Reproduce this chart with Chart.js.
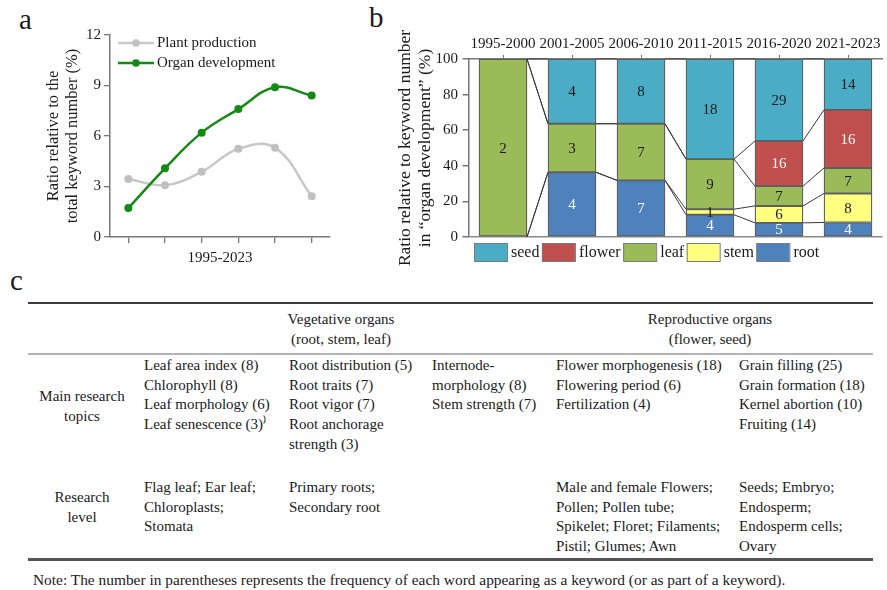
<!DOCTYPE html>
<html>
<head>
<meta charset="utf-8">
<script src="https://cdn.jsdelivr.net/npm/chart.js@4.4.1/dist/chart.umd.min.js"></script>
<style>
  body { margin: 0; background: #fff; }
  #wrap { position: relative; width: 887px; height: 590px; overflow: hidden;
          font-family: 'Liberation Serif', serif; color: #1a1a1a; }
  #wrap canvas { position: absolute; }
  .t { position: absolute; white-space: nowrap; font-size: 15px; line-height: 19.6px; }
  .c { text-align: center; }
  .letter { position: absolute; font-size: 29px; line-height: 30px; }
  .rule { position: absolute; left: 28px; width: 845px; }
</style>
</head>
<body>
<div id="wrap">
  <div class="letter" style="left:19px;top:4px">a</div>
  <div class="letter" style="left:369px;top:2px">b</div>
  <div class="letter" style="left:10px;top:265px">c</div>
  <div id="boxA" style="position:absolute;left:0;top:0;width:345px;height:280px"><canvas id="chartA"></canvas></div>
  <div id="boxB" style="position:absolute;left:360px;top:0;width:527px;height:280px"><canvas id="chartB"></canvas></div>
  <div class="rule" style="top:302px;height:2px;background:#3c3c3c"></div>
  <div class="rule" style="top:353px;height:1.5px;background:#b4b4b4"></div>
  <div class="rule" style="top:558px;height:2.5px;background:#555"></div>
  <div id="table"></div>
</div>
<script>
// panel a
const periods = ['1995-2000', '2001-2005', '2006-2010', '2011-2015', '2016-2020', '2021-2023'];
const plantProduction = [3.45, 3.08, 3.87, 5.24, 5.3, 2.42];
const organDevelopment = [1.72, 4.08, 6.2, 7.6, 8.9, 8.4];
const ratioTicks = [0, 3, 6, 9, 12];

// panel b (keyword counts per period, stacked bottom -> top)
const organs = ['root', 'stem', 'leaf', 'flower', 'seed'];
const rootCounts = [0, 4, 7, 4, 5, 4];
const stemCounts = [0, 0, 0, 1, 6, 8];
const leafCounts = [2, 3, 7, 9, 7, 7];
const flowerCounts = [0, 0, 0, 0, 16, 16];
const seedCounts = [0, 4, 8, 18, 29, 14];
const shareTicks = [0, 20, 40, 60, 80, 100];
const legendOrder = ['seed', 'flower', 'leaf', 'stem', 'root'];

const organColors = { root: '#4f81bd', stem: '#ffff80', leaf: '#9bbb59', flower: '#c0504d', seed: '#4bacc6' };
const whiteText = ['root', 'flower'];

Chart.defaults.font.family = "'Liberation Serif', serif";
Chart.defaults.color = '#1a1a1a';
Chart.defaults.animation = false;

const legendA = {
  id: 'legendA',
  afterDraw(chart) {
    const ctx = chart.ctx;
    [1, 0].forEach((i, row) => {
      const ds = chart.data.datasets[i];
      const y = 43 + row * 20;
      ctx.save();
      ctx.strokeStyle = ds.borderColor;
      ctx.lineWidth = ds.borderWidth;
      ctx.beginPath(); ctx.moveTo(118, y); ctx.lineTo(154, y); ctx.stroke();
      ctx.fillStyle = ds.pointBackgroundColor;
      ctx.beginPath(); ctx.arc(136, y, 3.8, 0, Math.PI * 2); ctx.fill();
      ctx.fillStyle = '#1a1a1a';
      ctx.font = "15px 'Liberation Serif'";
      ctx.textBaseline = 'middle';
      ctx.fillText(ds.label, 157, y);
      ctx.restore();
    });
  }
};

new Chart(document.getElementById('chartA'), {
  type: 'line',
  data: {
    labels: periods,
    datasets: [{
      label: 'Organ development',
      data: organDevelopment,
      borderColor: '#138a13', backgroundColor: '#138a13', pointBackgroundColor: '#138a13',
      borderWidth: 2.5, pointRadius: 4, pointBorderWidth: 0, tension: 0.4, order: 1
    }, {
      label: 'Plant production',
      data: plantProduction,
      borderColor: '#c8c8c8', backgroundColor: '#c0c0c0', pointBackgroundColor: '#c0c0c0',
      borderWidth: 2.5, pointRadius: 4, pointBorderWidth: 0, tension: 0.4, order: 2
    }]
  },
  options: {
    responsive: true, maintainAspectRatio: false,
    layout: { padding: { top: 35, right: 15, bottom: 0, left: 0 } },
    plugins: { legend: { display: false }, tooltip: { enabled: false } },
    scales: {
      x: {
        offset: true,
        grid: { drawOnChartArea: false, tickLength: 6, color: '#777', lineWidth: 1.3 },
        border: { color: '#777', width: 1.5 },
        ticks: { callback: () => '', padding: 0 },
        title: { display: true, text: '1995-2023', font: { size: 15 }, padding: { top: 0, bottom: 13 } },
        afterFit(s) { s.height = 43; }
      },
      y: {
        min: 0, max: 12,
        afterBuildTicks(s) { s.ticks = ratioTicks.map(v => ({ value: v })); },
        ticks: { padding: 3, font: { size: 15 } },
        grid: { drawOnChartArea: false, tickLength: 6, color: '#777', lineWidth: 1.3 },
        border: { color: '#777', width: 1.5 },
        title: { display: true, text: ['Ratio relative to the', 'total keyword number (%)'],
                 font: { size: 16.5, lineHeight: 1.15 }, padding: { top: 44.5, bottom: 0 } },
        afterFit(s) { s.width = 110; }
      }
    }
  },
  plugins: [legendA]
});

const countsByOrgan = { root: rootCounts, stem: stemCounts, leaf: leafCounts, flower: flowerCounts, seed: seedCounts };
const totals = periods.map((p, j) => organs.reduce((s, o) => s + countsByOrgan[o][j], 0));

const linksB = {
  id: 'linksB',
  afterDatasetsDraw(chart) {
    const ctx = chart.ctx;
    ctx.save();
    ctx.strokeStyle = '#3a3a3a';
    ctx.lineWidth = 1;
    chart.data.datasets.forEach((ds, k) => {
      const bars = chart.getDatasetMeta(k).data;
      for (let j = 0; j < bars.length - 1; j++) {
        const a = bars[j], b = bars[j + 1];
        ctx.beginPath();
        ctx.moveTo(a.x + a.width / 2, a.y);
        ctx.lineTo(b.x - b.width / 2, b.y);
        ctx.stroke();
      }
    });
    // value labels
    ctx.font = "15px 'Liberation Serif'";
    ctx.textAlign = 'center';
    ctx.textBaseline = 'middle';
    chart.data.datasets.forEach((ds, k) => {
      const counts = countsByOrgan[organs[k]];
      chart.getDatasetMeta(k).data.forEach((bar, j) => {
        if (!counts[j]) return;
        ctx.fillStyle = whiteText.includes(organs[k]) ? '#ffffff' : '#1a1a1a';
        ctx.fillText(String(counts[j]), bar.x, (bar.y + bar.base) / 2 + 1);
      });
    });
    ctx.restore();
  },
  afterDraw(chart) {
    const ctx = chart.ctx;
    ctx.save();
    ctx.font = "16px 'Liberation Serif'";
    ctx.textBaseline = 'middle';
    let x = 114;
    const y = 243;
    legendOrder.forEach(name => {
      ctx.fillStyle = organColors[name];
      ctx.fillRect(x, y, 33, 18);
      ctx.strokeStyle = '#7a7a7a';
      ctx.lineWidth = 1;
      ctx.strokeRect(x + 0.5, y + 0.5, 33, 18);
      ctx.fillStyle = '#1a1a1a';
      ctx.fillText(name, x + 37, y + 10);
      x += 37 + ctx.measureText(name).width + 2.5;
    });
    ctx.restore();
  }
};

new Chart(document.getElementById('chartB'), {
  type: 'bar',
  data: {
    labels: periods,
    datasets: organs.map(o => ({
      label: o,
      data: countsByOrgan[o].map((c, j) => c / totals[j] * 100),
      backgroundColor: organColors[o],
      borderColor: '#5e5e5e',
      borderWidth: 1.3,
      borderSkipped: false,
      barThickness: 48
    }))
  },
  options: {
    responsive: true, maintainAspectRatio: false,
    layout: { padding: { top: 0, right: 4.5, bottom: 43, left: 0 } },
    plugins: { legend: { display: false }, tooltip: { enabled: false } },
    scales: {
      x: {
        position: 'top', stacked: true, offset: true,
        grid: { offset: false, drawOnChartArea: false, tickLength: 4, color: '#777' },
        border: { color: '#777', width: 1.5 },
        ticks: { padding: 2, font: { size: 15 }, autoSkip: false, maxRotation: 0 },
        afterFit(s) { s.height = 59; }
      },
      y: {
        stacked: true, min: 0, max: 100,
        afterBuildTicks(s) { s.ticks = shareTicks.map(v => ({ value: v })); },
        ticks: { padding: 4.5, font: { size: 15 } },
        grid: { tickLength: 6, tickColor: '#777', lineWidth: 1.5,
                color: c => (c.tick && c.tick.value === 0 ? '#8a8a8a' : 'rgba(0,0,0,0)') },
        border: { color: '#777', width: 1.5 },
        title: { display: true, text: ['Ratio relative to keyword number', 'in \u201corgan development\u201d (%)'],
                 font: { size: 17.5, lineHeight: 1.15 }, padding: { top: 35, bottom: 0 } },
        afterFit(s) { s.width = 108.5; }
      }
    }
  },
  plugins: [linksB]
});

// panel c table
const tableCells = [
  { x: 341, y: 320, center: true, lines: ['Vegetative organs', '(root, stem, leaf)'] },
  { x: 710, y: 320, center: true, lines: ['Reproductive organs', '(flower, seed)'] },
  { x: 82, y: 397, center: true, lines: ['Main research', 'topics'] },
  { x: 144, y: 366, lines: ['Leaf area index (8)', 'Chlorophyll (8)', 'Leaf morphology (6)', 'Leaf senescence (3)\u207e'] },
  { x: 289, y: 366, lines: ['Root distribution (5)', 'Root traits (7)', 'Root vigor (7)', 'Root anchorage', 'strength (3)'] },
  { x: 432, y: 366, lines: ['Internode-', 'morphology (8)', 'Stem strength (7)'] },
  { x: 556, y: 366, lines: ['Flower morphogenesis (18)', 'Flowering period (6)', 'Fertilization (4)'] },
  { x: 739, y: 366, lines: ['Grain filling (25)', 'Grain formation (18)', 'Kernel abortion (10)', 'Fruiting (14)'] },
  { x: 82, y: 498, center: true, lines: ['Research', 'level'] },
  { x: 144, y: 488, lines: ['Flag leaf; Ear leaf;', 'Chloroplasts;', 'Stomata'] },
  { x: 289, y: 488, lines: ['Primary roots;', 'Secondary root'] },
  { x: 556, y: 488, lines: ['Male and female Flowers;', 'Pollen; Pollen tube;', 'Spikelet; Floret; Filaments;', 'Pistil; Glumes; Awn'] },
  { x: 739, y: 488, lines: ['Seeds; Embryo;', 'Endosperm;', 'Endosperm cells;', 'Ovary'] },
  { x: 33, y: 580, size: 15.4, lines: ['Note: The number in parentheses represents the frequency of each word appearing as a keyword (or as part of a keyword).'] }
];
const table = document.getElementById('table');
tableCells.forEach(cell => {
  const d = document.createElement('div');
  d.className = 't' + (cell.center ? ' c' : '');
  d.style.top = (cell.y - 9.8) + 'px';
  if (cell.size) d.style.fontSize = cell.size + 'px';
  if (cell.center) { d.style.left = (cell.x - 100) + 'px'; d.style.width = '200px'; }
  else d.style.left = cell.x + 'px';
  d.innerHTML = cell.lines.join('<br>');
  table.appendChild(d);
});
</script>
</body>
</html>
